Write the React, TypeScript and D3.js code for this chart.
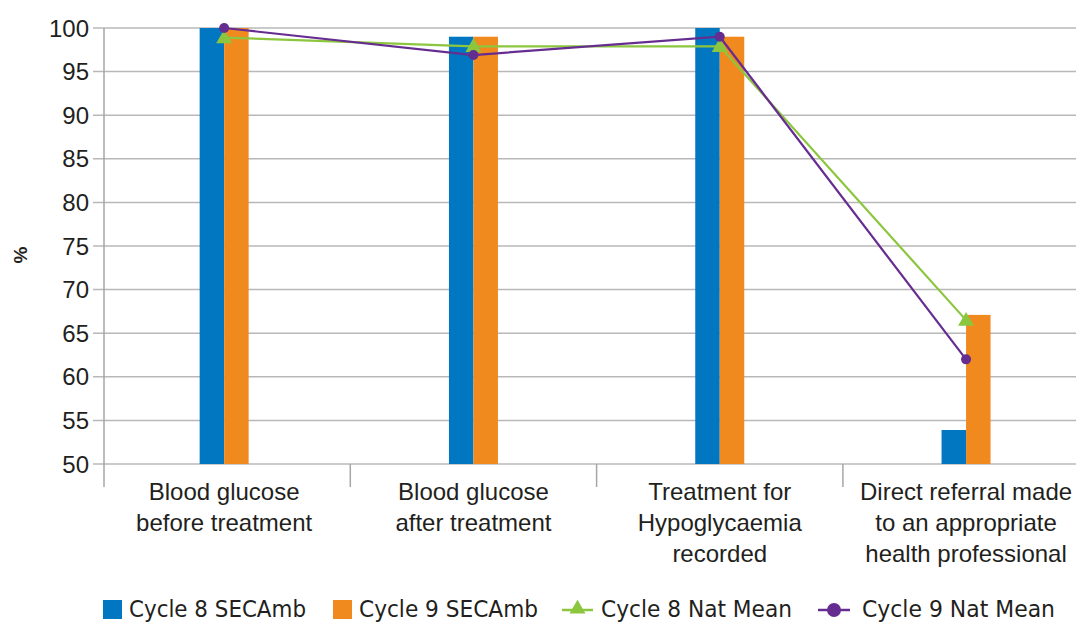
import React from "react";
import * as d3 from "d3";

const categories: string[][] = [
  ["Blood glucose", "before treatment"],
  ["Blood glucose", "after treatment"],
  ["Treatment for", "Hypoglycaemia", "recorded"],
  ["Direct referral made", "to an appropriate", "health professional"],
];
const cycle8SECAmb = [100, 99, 100, 53.9];
const cycle9SECAmb = [100, 99, 99, 67.1];
const cycle8NatMean = [98.9, 97.9, 97.9, 66.5];
const cycle9NatMean = [100, 96.9, 99, 62];
const yTicks = [50, 55, 60, 65, 70, 75, 80, 85, 90, 95, 100];

const BLUE = "#0077c0";
const ORANGE = "#f08a1f";
const GREEN = "#8cc63e";
const PURPLE = "#662d91";
const GRID = "#b8b8b8";
const AXIS = "#a6a6a6";

const W = 1076;
const H = 623;
const left = 104;
const bandW = 246.3;

export default function App() {
  const x = d3
    .scaleBand<number>()
    .domain(d3.range(categories.length))
    .range([left, left + bandW * categories.length])
    .paddingInner(0)
    .paddingOuter(0);
  const y = d3.scaleLinear().domain([50, 100]).range([464, 28]);
  const barW = 24.5;
  const cx = (i: number) => (x(i) as number) + x.bandwidth() / 2 - (i === 0 ? 3 : 0);

  const line = d3
    .line<number>()
    .x((_, i) => cx(i))
    .y((d) => y(d));

  const tri = d3.symbol().type(d3.symbolTriangle).size(110)();

  const tickFont = "'Liberation Sans', Arial, sans-serif";
  const catFont = "'Liberation Sans', Arial, sans-serif";
  const legFont = "'Liberation Sans Narrow', 'DejaVu Sans Condensed', 'Liberation Sans', sans-serif";

  const legend = [
    { label: "Cycle 8 SECAmb", kind: "bar", color: BLUE, x: 103, tx: 129, tw: 177 },
    { label: "Cycle 9 SECAmb", kind: "bar", color: ORANGE, x: 333, tx: 359, tw: 179 },
    { label: "Cycle 8 Nat Mean", kind: "tri", color: GREEN, x: 562, tx: 601, tw: 191 },
    { label: "Cycle 9 Nat Mean", kind: "circ", color: PURPLE, x: 818, tx: 862, tw: 193 },
  ];

  return (
    <svg width={W} height={H} style={{ position: "absolute", left: 0, top: 0, background: "#fff" }}>
      {/* gridlines and y ticks */}
      {yTicks.map((t) => (
        <g key={t}>
          <line x1={93} x2={W} y1={y(t)} y2={y(t)} stroke={GRID} strokeWidth={1.5} />
          <text
            x={89}
            y={y(t)}
            dy="0.36em"
            textAnchor="end"
            fontFamily={tickFont}
            fontSize={24}
            fill="#231f20"
          >
            {t}
          </text>
        </g>
      ))}
      {/* y axis */}
      <line x1={left} x2={left} y1={y(100)} y2={487} stroke={AXIS} strokeWidth={1.5} />
      {/* category dividers */}
      {d3.range(1, categories.length).map((i) => (
        <line
          key={i}
          x1={x(i) as number}
          x2={x(i) as number}
          y1={y(50)}
          y2={487}
          stroke={AXIS}
          strokeWidth={1.5}
        />
      ))}
      <text
        transform={`translate(27,255) rotate(-90)`}
        textAnchor="middle"
        fontFamily={tickFont}
        fontWeight="bold"
        fontSize={19}
        fill="#231f20"
      >
        %
      </text>

      {/* bars */}
      {cycle8SECAmb.map((v, i) => (
        <rect key={"a" + i} x={cx(i) - barW} width={barW} y={y(v)} height={y(50) - y(v)} fill={BLUE} />
      ))}
      {cycle9SECAmb.map((v, i) => (
        <rect key={"b" + i} x={cx(i)} width={barW} y={y(v)} height={y(50) - y(v)} fill={ORANGE} />
      ))}

      {/* national mean lines */}
      <path d={line(cycle8NatMean) || ""} fill="none" stroke={GREEN} strokeWidth={2.2} />
      {cycle8NatMean.map((v, i) => (
        <path key={"t" + i} d={tri || ""} transform={`translate(${cx(i)},${y(v) + 1})`} fill={GREEN} />
      ))}
      <path d={line(cycle9NatMean) || ""} fill="none" stroke={PURPLE} strokeWidth={2.2} />
      {cycle9NatMean.map((v, i) => (
        <circle key={"c" + i} cx={cx(i)} cy={y(v)} r={5} fill={PURPLE} />
      ))}

      {/* category labels */}
      {categories.map((lines, i) => (
        <text
          key={"cat" + i}
          x={cx(i)}
          textAnchor="middle"
          fontFamily={catFont}
          fontSize={24}
          fill="#231f20"
        >
          {lines.map((l, j) => (
            <tspan key={j} x={cx(i)} y={500 + j * 31}>
              {l}
            </tspan>
          ))}
        </text>
      ))}

      {/* legend */}
      {legend.map((d) => (
        <g key={d.label}>
          {d.kind === "bar" && <rect x={d.x} y={600} width={19} height={19} fill={d.color} />}
          {d.kind === "tri" && (
            <g>
              <line x1={d.x} x2={d.x + 31} y1={610} y2={610} stroke={d.color} strokeWidth={2.5} />
              <path d={tri || ""} transform={`translate(${d.x + 15.5},${609})`} fill={d.color} />
            </g>
          )}
          {d.kind === "circ" && (
            <g>
              <line x1={d.x} x2={d.x + 32} y1={610} y2={610} stroke={d.color} strokeWidth={2.5} />
              <circle cx={d.x + 16} cy={610} r={7} fill={d.color} />
            </g>
          )}
          <text
            x={d.tx}
            y={617}
            fontFamily={legFont}
            fontSize={23}
            fill="#231f20"
            textLength={d.tw}
            lengthAdjust="spacingAndGlyphs"
          >
            {d.label}
          </text>
        </g>
      ))}
    </svg>
  );
}
